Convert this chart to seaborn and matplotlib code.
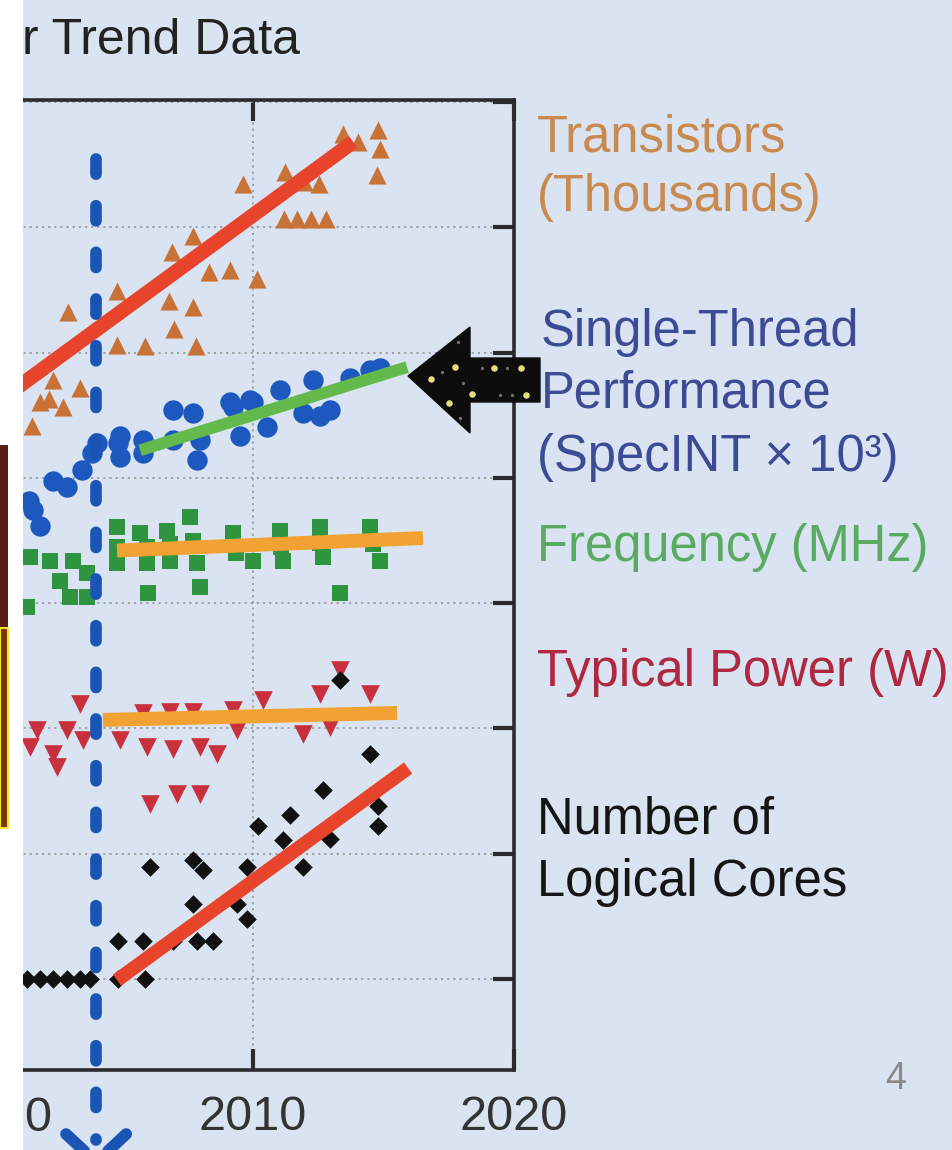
import matplotlib
matplotlib.use("Agg")
import matplotlib.pyplot as plt
import seaborn as sns
import pandas as pd
from matplotlib.patches import Polygon, Rectangle
from matplotlib.ticker import NullLocator

# ---------------- data ----------------
tr_years = [2013.46, 2014.03, 2014.80, 2014.88, 2014.76, 2009.64, 2011.24, 2011.97, 2012.54,
            2011.20, 2011.70, 2012.24, 2012.81, 2007.72, 2006.92, 2008.34, 2009.14, 2010.17,
            2004.82, 2002.94, 2006.81, 2007.72, 2007.00, 2004.82, 2005.89, 2007.84,
            2003.42, 2002.37, 2001.87, 2002.74, 2001.55, 2002.22]
tr_vals = [5.6e6, 4.8e6, 6.0e6, 4.2e6, 2.6e6, 2.2e6, 2.75e6, 2.3e6, 2.2e6,
           1.17e6, 1.17e6, 1.17e6, 1.17e6, 8.5e5, 6.3e5, 4.4e5, 4.6e5, 3.9e5,
           3.1e5, 2.1e5, 2.6e5, 2.3e5, 1.55e5, 1.15e5, 1.12e5, 1.12e5,
           5.2e4, 6.0e4, 4.0e4, 3.7e4, 2.6e4, 4.3e4]

st_years = [2001.61, 2001.87, 2002.37, 2002.91, 2003.48, 2003.86, 2004.05, 2004.86, 2004.93,
            2004.93, 2005.81, 2005.81, 2006.96, 2006.96, 2007.72, 2007.99, 2007.88, 2009.14,
            2009.25, 2009.52, 2009.90, 2010.02, 2010.55, 2011.05, 2011.93, 2012.31, 2012.58,
            2012.96, 2013.73, 2014.49, 2014.87, 2001.45]
st_vals = [5500, 4100, 9500, 8500, 11500, 15800, 19000, 19000, 21400,
           14800, 20000, 15800, 34700, 20000, 33000, 20000, 13800, 40000,
           37000, 21400, 41700, 40000, 25700, 50000, 33000, 60000, 31000,
           34700, 63000, 72000, 76000, 6500]

fq_years = [2004.82, 2004.82, 2004.82, 2005.70, 2005.97, 2005.97, 2006.00, 2006.73, 2006.85,
            2006.85, 2007.61, 2007.72, 2007.88, 2007.99, 2009.25, 2009.35, 2010.02, 2011.05,
            2011.10, 2011.17, 2012.58, 2012.60, 2012.70, 2013.35, 2014.49, 2014.60, 2014.87,
            2001.49, 2001.38, 2002.26, 2002.64, 2003.02, 2003.14, 2003.67, 2003.67]
fq_vals = [4050, 2820, 2090, 3630, 2820, 2090, 1200, 3800, 2950,
           2190, 4900, 3160, 2090, 1350, 3630, 2510, 2190, 3800,
           2820, 2190, 4070, 3020, 2340, 1200, 4070, 2950, 2190,
           2340, 930, 2190, 1510, 1120, 2190, 1740, 1120]

pw_years = [2003.40, 2001.76, 2002.91, 2001.49, 2002.37, 2002.52, 2003.52, 2004.93, 2005.97,
            2006.96, 2007.99, 2008.64, 2009.41, 2005.81, 2006.85, 2007.72, 2009.25, 2010.40,
            2011.93, 2012.58, 2013.35, 2014.49, 2012.96, 2006.08, 2007.11, 2007.99]
pw_vals = [158, 98, 98, 71, 63, 49, 81, 81, 71,
           68, 71, 63, 98, 132, 135, 135, 141, 170,
           91, 190, 295, 190, 102, 25, 30, 30]

cr_years = [2001.38, 2001.87, 2002.37, 2002.91, 2003.40, 2003.79, 2004.86, 2005.89,
            2004.86, 2005.81, 2006.96, 2007.88, 2008.49, 2007.72, 2009.41, 2009.79,
            2006.08, 2007.72, 2008.10, 2009.79, 2011.93, 2011.17, 2010.21, 2011.43,
            2012.96, 2012.70, 2014.49, 2013.35, 2014.80, 2014.80]
cr_vals = [1, 1, 1, 1, 1, 1, 1, 1,
           2, 2, 2, 2, 2, 4, 4, 3,
           7.8, 8.9, 7.4, 7.8, 7.8, 12.9, 16.6, 20.4,
           13, 32, 63, 245, 24, 16.6]

# trend lines (two end points each)
tr_fit_years = [2000.5, 2013.85]
tr_fit_vals = [4.4e4, 4.8e6]
st_fit_years = [2005.70, 2015.91]
st_fit_vals = [16600, 76600]
fq_fit_years = [2004.82, 2016.52]
fq_fit_vals = [2630, 3310]
pw_fit_years = [2004.28, 2015.53]
pw_fit_vals = [117, 133]
cr_fit_years = [2004.82, 2015.95]
cr_fit_vals = [0.98, 48.3]

x_ticks = [2000, 2010, 2020]
x_tick_labels = ["", "2010", "2020"]   # the 2000 label is cropped: only its last "0" shows
end_of_scaling_year = 2004.02

# ---------------- style ----------------
sns.set_theme(style="ticks")
plt.rcParams["font.family"] = ["Liberation Sans", "DejaVu Sans"]

BG = "#d9e3f1"
W, H = 952, 1150
fig = plt.figure(figsize=(9.52, 11.5), dpi=100, facecolor=BG)


def fx(px):
    return px / W


def fy(py):
    return 1 - py / H


ax_left_px, ax_right_px, ax_top_px, ax_bot_px = -113.6, 514, 100, 1070
ax = fig.add_axes([fx(ax_left_px), fy(ax_bot_px),
                   (ax_right_px - ax_left_px) / W, (ax_bot_px - ax_top_px) / H])
ax.set_facecolor(BG)
ax.set_yscale("log")
ax.set_xlim(1996, 2020)
ax.set_ylim(10 ** -0.726, 10 ** 7.016)

# scatter series
sns.scatterplot(x=tr_years, y=tr_vals, marker="^", s=170, color="#c87236",
                linewidth=0, ax=ax, zorder=2)
sns.scatterplot(x=st_years, y=st_vals, marker="o", s=215, color="#1c58be",
                linewidth=0, ax=ax, zorder=2)
sns.scatterplot(x=fq_years, y=fq_vals, marker="s", s=145, color="#2f9440",
                linewidth=0, ax=ax, zorder=2)
sns.scatterplot(x=pw_years, y=pw_vals, marker="v", s=180, color="#c8303e",
                linewidth=0, ax=ax, zorder=2)
sns.scatterplot(x=cr_years, y=cr_vals, marker="D", s=90, color="#111111",
                linewidth=0, ax=ax, zorder=2)

# trend lines
fits = [
    (tr_fit_years, tr_fit_vals, "#e8432b", 10.5),
    (st_fit_years, st_fit_vals, "#63b94b", 8.5),
    (fq_fit_years, fq_fit_vals, "#f2a233", 10),
    (pw_fit_years, pw_fit_vals, "#f2a233", 10),
    (cr_fit_years, cr_fit_vals, "#e8432b", 10),
]
for xs, ys, col, lw in fits:
    sns.lineplot(x=xs, y=ys, color=col, linewidth=lw, ax=ax, zorder=3,
                 solid_capstyle="butt", estimator=None, sort=False)

# blue dashed vertical line with arrow head below the axis
trans = ax.get_xaxis_transform()
ax.plot([end_of_scaling_year, end_of_scaling_year], [0.939, -0.072], transform=trans,
        color="#1a55b6", linewidth=8.4, dashes=(1.3, 2.7), dash_capstyle="round",
        clip_on=False, zorder=6)
ax.plot([end_of_scaling_year - 1.15, end_of_scaling_year, end_of_scaling_year + 1.15],
        [-0.066, -0.095, -0.066], transform=trans, color="#1a55b6", linewidth=8.4,
        solid_capstyle="round", solid_joinstyle="miter", clip_on=False, zorder=6)

# axes frame, ticks and grid
for sp in ax.spines.values():
    sp.set_visible(True)
    sp.set_linewidth(2.6)
    sp.set_color("#2b2b2b")
ax.set_xticks(x_ticks)
ax.set_xticklabels(x_tick_labels)
ax.set_yticks([10 ** k for k in range(0, 8)])
ax.yaxis.set_minor_locator(NullLocator())
ax.xaxis.set_minor_locator(NullLocator())
ax.tick_params(axis="both", which="major", direction="in", length=15, width=3,
               color="#2b2b2b", top=True, right=True, left=True, bottom=True,
               labelleft=False, labelright=False, labeltop=False)
ax.tick_params(axis="x", labelsize=35, labelcolor="#333333", pad=18)
ax.grid(True, which="major", axis="both", linestyle=(0, (1.2, 2.2)),
        color="#9a9a9a", linewidth=1.3)
ax.set_axisbelow(True)
ax.set_xlabel("")
ax.set_ylabel("")

# cropped fragment of the "2000" tick label
fig.text(fx(38), fy(1131), "0", fontsize=35, color="#333333", ha="center", va="baseline")

# title fragment and page number
fig.text(fx(22), fy(54), "r Trend Data", fontsize=36, color="#222222",
         ha="left", va="baseline")
fig.text(fx(896), fy(1079), "4", fontsize=27, color="#8a8a8a", ha="center", va="center")

# right-hand labels
labels = [
    ("Transistors", 537, 151, "#c98a4f"),
    ("(Thousands)", 537, 211, "#c98a4f"),
    ("Single-Thread", 541, 346, "#3d4a95"),
    ("Performance", 541, 408, "#3d4a95"),
    ("(SpecINT × 10³)", 537, 471, "#3d4a95"),
    ("Frequency (MHz)", 537, 561, "#5aab62"),
    ("Typical Power (W)", 537, 686, "#b0283f"),
    ("Number of", 537, 834, "#151515"),
    ("Logical Cores", 537, 896, "#151515"),
]
for txt, px, py, col in labels:
    fig.text(fx(px), fy(py), txt, fontsize=36.5, color=col, ha="left", va="baseline")

# overlay in pixel coordinates: black arrow, white left strip
ov = fig.add_axes([0, 0, 1, 1], zorder=10)
ov.set_xlim(0, W)
ov.set_ylim(H, 0)
ov.axis("off")
ov.patch.set_alpha(0)

arrow = Polygon([(408, 376), (470, 327), (470, 358), (540, 358), (540, 402),
                 (470, 402), (470, 433)], closed=True, facecolor="#0d0d0d",
                edgecolor="#0d0d0d", linewidth=1)
ov.add_patch(arrow)
ov.scatter([431, 455, 449, 472, 494, 521, 526], [379, 367, 403, 394, 368, 368, 395],
           s=22, color="#e4df7c", linewidths=0, zorder=3)
ov.scatter([442, 463, 482, 507, 500, 512, 460, 458], [372, 383, 368, 368, 395, 395, 418, 342],
           s=6, color="#6f6f6f", linewidths=0, zorder=3)

ov.add_patch(Rectangle((0, 0), 23, H, facecolor="white", edgecolor="none"))
ov.add_patch(Rectangle((0, 445), 8, 182, facecolor="#5b1c12", edgecolor="none"))
ov.add_patch(Rectangle((0, 628), 8, 200, facecolor="#7a3510", edgecolor="#f2e23a",
                       linewidth=1.5))

fig.savefig("out.png", dpi=100, facecolor=BG)
